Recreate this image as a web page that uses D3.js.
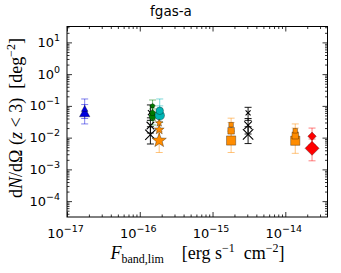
<!DOCTYPE html>
<html><head><meta charset="utf-8">
<script src="https://cdn.jsdelivr.net/npm/d3@7"></script>
<style>body{margin:0;background:#fff}svg{display:block}</style>
</head><body>
<script>
// ---------------- DATA ----------------
const xTickValues = [1e-17, 1e-16, 1e-15, 1e-14];
const xTickExps = ["-17", "-16", "-15", "-14"];
const yTickValues = [1e1, 1e0, 1e-1, 1e-2, 1e-3, 1e-4];
const yTickExps = ["1", "0", "-1", "-2", "-3", "-4"];

const seriesFlux = [1.75e-17, 1.4e-16, 1.5e-16, 1.88e-16, 1.85e-16, 1.8e-15, 3.08e-15, 1.37e-14, 2.33e-14];
const seriesValues = [
  [0.08, 0.06],
  [0.061, 0.024, 0.0123],
  [0.1, 0.06, 0.046],
  [0.07, 0.05],
  [0.029, 0.0178, 0.0081],
  [0.0255, 0.0164, 0.0081],
  [0.06, 0.0245, 0.0127],
  [0.0164, 0.0115, 0.008],
  [0.011, 0.0046]
];
const seriesErrLow = [
  [0.04, 0.027],
  [0.035, 0.014, 0.0063],
  [0.06, 0.035, 0.025],
  [0.04, 0.03],
  [0.018, 0.009, 0.0034],
  [0.016, 0.009, 0.0034],
  [0.035, 0.013, 0.0065],
  [0.009, 0.006, 0.0032],
  [0.006, 0.00186]
];
const seriesErrHigh = [
  [0.165, 0.11],
  [0.107, 0.042, 0.022],
  [0.153, 0.1, 0.08],
  [0.165, 0.1],
  [0.045, 0.03, 0.016],
  [0.041, 0.03, 0.016],
  [0.09, 0.04, 0.022],
  [0.027, 0.02, 0.015],
  [0.02, 0.009]
];

// ---------------- STYLE ----------------
const seriesMarker = ["triangle", "x", "pentagon", "circle", "star", "square", "x", "square", "diamond"];
const seriesColor = ["#0000dd", "#000000", "#007a00", "#00b5b5", "#ff8c00", "#ff8c00", "#000000", "#ff8c00", "#ff0000"];
const markerSizes = [[3.5, 5.5], [2.5, 3.8, 5.2], [2.5, 3.2, 4], [3.8, 4.8], [4, 5.2, 7.5], [2.3, 3.3, 4.6], [2.5, 3.8, 5.2], [2.3, 3.3, 4.6], [4.2, 7]];

const W = 341, H = 273;
const L = 67, R = 327.5, T = 26.5, B = 217;

const svg = d3.select("body").append("svg").attr("width", W).attr("height", H)
  .attr("font-family", "DejaVu Sans, sans-serif");

const x = d3.scaleLog().domain([1e-17, 3.8e-14]).range([L, R]);
const y = d3.scaleLog().domain([Math.pow(10, -4.5), Math.pow(10, 1.5)]).range([B, T]);

function minors(domain) {
  const out = [];
  const lo = Math.floor(Math.log10(domain[0])), hi = Math.ceil(Math.log10(domain[1]));
  for (let k = lo; k <= hi; k++) for (let m = 2; m <= 9; m++) {
    const v = m * Math.pow(10, k);
    if (v >= domain[0] && v <= domain[1]) out.push(v);
  }
  return out;
}

// axes with inward ticks on all four sides
const g = svg.append("g");
function addAxis(axisFn, scale, vals, size, transform) {
  const a = g.append("g").attr("transform", transform)
    .call(axisFn(scale).tickValues(vals).tickSize(size).tickFormat(""));
  a.select(".domain").remove();
  a.selectAll("line").attr("stroke", "#000").attr("stroke-width", 0.8);
}
const xMin = minors(x.domain()), yMin = minors(y.domain());
addAxis(d3.axisBottom, x, xTickValues, -5, `translate(0,${B})`);
addAxis(d3.axisBottom, x, xMin, -2.5, `translate(0,${B})`);
addAxis(d3.axisTop, x, xTickValues, -5, `translate(0,${T})`);
addAxis(d3.axisTop, x, xMin, -2.5, `translate(0,${T})`);
addAxis(d3.axisLeft, y, yTickValues, -5, `translate(${L},0)`);
addAxis(d3.axisLeft, y, yMin, -2.5, `translate(${L},0)`);
addAxis(d3.axisRight, y, yTickValues, -5, `translate(${R},0)`);
addAxis(d3.axisRight, y, yMin, -2.5, `translate(${R},0)`);

svg.append("rect").attr("x", L).attr("y", T).attr("width", R - L).attr("height", B - T)
  .attr("fill", "none").attr("stroke", "#000").attr("stroke-width", 1);

// tick labels
xTickValues.forEach((v, i) => {
  const t = svg.append("text").attr("x", x(v) - 1.5).attr("y", 237.5)
    .attr("text-anchor", "middle").attr("font-size", 13).attr("fill", "#000");
  t.append("tspan").text("10");
  t.append("tspan").attr("dy", -6).attr("font-size", 9.5).text(xTickExps[i].replace("-", "\u2212"));
});
yTickValues.forEach((v, i) => {
  const t = svg.append("text").attr("x", 60).attr("y", y(v) + 4.5)
    .attr("text-anchor", "end").attr("font-size", 13).attr("fill", "#000");
  t.append("tspan").text("10");
  t.append("tspan").attr("dy", -6).attr("font-size", 9.5).text(yTickExps[i].replace("-", "\u2212"));
});

// title
svg.append("text").attr("x", 171).attr("y", 15.5).attr("text-anchor", "middle")
  .attr("font-size", 13.5).text("fgas-a");

// x label
const xl = svg.append("text").attr("x", 197.5).attr("y", 259).attr("text-anchor", "middle")
  .attr("font-family", "Liberation Serif, serif").attr("font-size", 18);
xl.append("tspan").attr("font-style", "italic").text("F");
xl.append("tspan").attr("dy", 3.5).attr("font-size", 12).text("band,lim");
xl.append("tspan").attr("dy", -3.5).text("\u2002\u2002[erg s");
xl.append("tspan").attr("dy", -7).attr("font-size", 12).text("\u22121");
xl.append("tspan").attr("dy", 7).text("\u2002cm");
xl.append("tspan").attr("dy", -7).attr("font-size", 12).text("\u22122");
xl.append("tspan").attr("dy", 7).text("]");

// y label
const yl = svg.append("text").attr("transform", "translate(22,118) rotate(-90)")
  .attr("text-anchor", "middle").attr("font-family", "Liberation Serif, serif").attr("font-size", 18);
yl.append("tspan").text("d");
yl.append("tspan").attr("font-style", "italic").text("N");
yl.append("tspan").text("/d\u03A9 (");
yl.append("tspan").attr("font-style", "italic").text("z");
yl.append("tspan").text(" < 3)\u2002[deg");
yl.append("tspan").attr("dy", -7).attr("font-size", 12).text("\u22122");
yl.append("tspan").attr("dy", 7).text("]");

// marker paths
function markerPath(type, r) {
  const p = d3.path();
  if (type === "triangle") {
    p.moveTo(0, -r); p.lineTo(r * 0.95, r * 0.7); p.lineTo(-r * 0.95, r * 0.7); p.closePath();
  } else if (type === "square") {
    p.rect(-r, -r, 2 * r, 2 * r);
  } else if (type === "diamond") {
    p.moveTo(0, -r); p.lineTo(r, 0); p.lineTo(0, r); p.lineTo(-r, 0); p.closePath();
  } else if (type === "circle") {
    p.arc(0, 0, r, 0, 2 * Math.PI);
  } else if (type === "pentagon") {
    for (let k = 0; k < 5; k++) {
      const a = -Math.PI / 2 + k * 2 * Math.PI / 5;
      k ? p.lineTo(r * Math.cos(a), r * Math.sin(a)) : p.moveTo(r * Math.cos(a), r * Math.sin(a));
    }
    p.closePath();
  } else if (type === "star") {
    for (let k = 0; k < 10; k++) {
      const a = -Math.PI / 2 + k * Math.PI / 5;
      const rr = k % 2 ? r * 0.42 : r;
      k ? p.lineTo(rr * Math.cos(a), rr * Math.sin(a)) : p.moveTo(rr * Math.cos(a), rr * Math.sin(a));
    }
    p.closePath();
  } else if (type === "x") {
    p.moveTo(-r, -r); p.lineTo(r, r); p.moveTo(-r, r); p.lineTo(r, -r);
  }
  return p.toString();
}

const plot = svg.append("g");
// error bars
seriesFlux.forEach((fx, s) => {
  const col = seriesColor[s];
  const op = col === "#000000" ? 0.9 : 0.5;
  seriesValues[s].forEach((v, i) => {
    const cx = x(fx), y1 = y(seriesErrLow[s][i]), y2 = y(seriesErrHigh[s][i]);
    const eb = plot.append("g").attr("stroke", col).attr("stroke-opacity", op).attr("stroke-width", 1);
    eb.append("line").attr("x1", cx).attr("x2", cx).attr("y1", y1).attr("y2", y2);
    eb.append("line").attr("x1", cx - 3.5).attr("x2", cx + 3.5).attr("y1", y1).attr("y2", y1);
    eb.append("line").attr("x1", cx - 3.5).attr("x2", cx + 3.5).attr("y1", y2).attr("y2", y2);
  });
});
// markers: largest first
seriesFlux.forEach((fx, s) => {
  const col = seriesColor[s], type = seriesMarker[s];
  const idx = seriesValues[s].map((_, i) => i).reverse();
  idx.forEach(i => {
    const v = seriesValues[s][i], r = markerSizes[s][i];
    const m = plot.append("path").attr("d", markerPath(type, r))
      .attr("transform", `translate(${x(fx)},${y(v)})`);
    if (type === "x") {
      m.attr("fill", "none").attr("stroke", col).attr("stroke-width", 1.1);
    } else {
      m.attr("fill", col).attr("stroke", "#000").attr("stroke-opacity", 0.45).attr("stroke-width", 0.7);
    }
  });
});
</script>
</body></html>
